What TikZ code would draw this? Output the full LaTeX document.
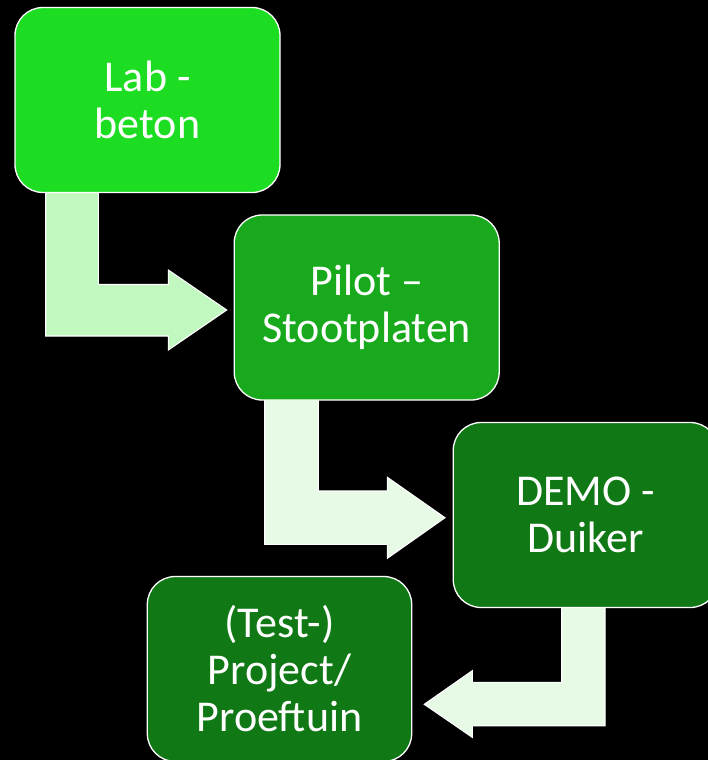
\documentclass[tikz,border=0pt]{standalone}
\usepackage{fontspec}
\setmainfont{Carlito}
\definecolor{gA}{RGB}{29,221,35}
\definecolor{gB}{RGB}{24,170,28}
\definecolor{gC}{RGB}{17,120,22}
\definecolor{arA}{RGB}{192,248,192}
\definecolor{arB}{RGB}{230,250,230}
\tikzset{
  stagebox/.style={rectangle, rounded corners=28pt, minimum width=265pt, minimum height=185pt,
    inner sep=0pt, draw=white, line width=1.3pt, text=white, align=center,
    font=\fontsize{44}{47}\selectfont},
  bentarrow/.style={draw=white, line width=1.1pt, line join=miter}
}
\begin{document}
\begin{tikzpicture}[x=1pt,y=-1pt]
\fill[black] (0,0) rectangle (708,760);
\useasboundingbox (0,0) rectangle (708,760);
\clip (0,0) rectangle (708,760);
% bent arrows (behind boxes)
\path[bentarrow, fill=arA] (45.7,190) -- (45.7,336) -- (168.3,336) -- (168.3,350) -- (226.7,310)
  -- (168.3,270) -- (168.3,284.3) -- (98.3,284.3) -- (98.3,190) -- cycle;
\path[bentarrow, fill=arB] (264.7,398) -- (264.7,544.3) -- (387.3,544.3) -- (387.3,558.3) -- (445,517.7)
  -- (387.3,477.3) -- (387.3,491) -- (318.3,491) -- (318.3,398) -- cycle;
\path[bentarrow, fill=arB] (605,605) -- (605,725.7) -- (472.3,725.7) -- (472.3,737.3) -- (424.3,704.3)
  -- (472.3,670.7) -- (472.3,682.3) -- (561.7,682.3) -- (561.7,605) -- cycle;
% boxes
\node[stagebox, fill=gA] (b1) at (147.5,100) {Lab -\\beton};
\node[stagebox, fill=gB] (b2) at (366.7,307.5) {Pilot –\\Stootplaten};
\node[stagebox, fill=gC] (b3) at (585.7,515) {DEMO -\\Duiker};
\node[stagebox, fill=gC, minimum width=264.4pt] (b4) at (279.5,669) {(Test-)\\Project/\\Proeftuin};
\end{tikzpicture}
\end{document}
